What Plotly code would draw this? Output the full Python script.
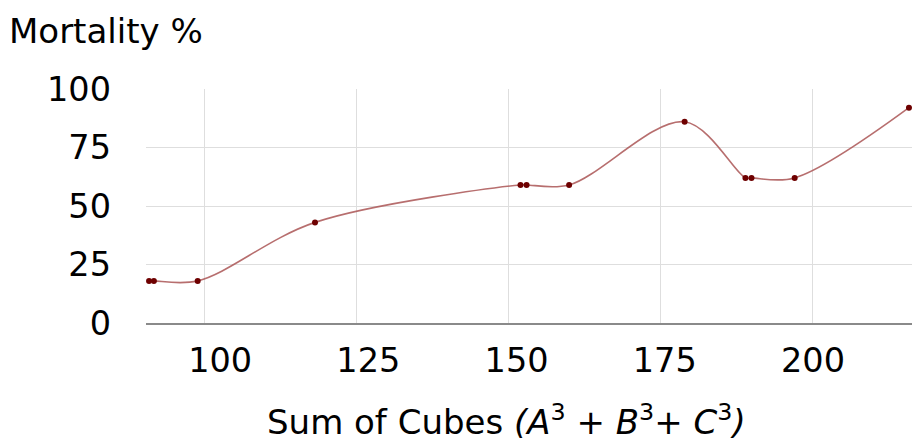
import plotly.graph_objects as go

# sum of cubes vs mortality
sum_of_cubes = [90.8, 91.6, 98.8, 118.1, 151.9, 152.9, 159.9, 178.9, 188.9, 189.9, 197.0, 215.8]
mortality = [18, 18, 18, 43, 59, 59, 59, 86, 62, 62, 62, 92]

x_ticks = [100, 125, 150, 175, 200]
y_ticks = [0, 25, 50, 75, 100]

FONT = "Verdana, DejaVu Sans, sans-serif"

fig = go.Figure()
fig.add_trace(
    go.Scatter(
        x=sum_of_cubes,
        y=mortality,
        mode="lines+markers",
        line=dict(color="rgba(170, 85, 85, 0.85)", width=1.6, shape="spline", smoothing=1),
        marker=dict(size=6, color="#6e0000"),
        cliponaxis=False,
        showlegend=False,
        hoverinfo="x+y",
    )
)
# the reference's tick labels sit on a slightly different scale than its grid,
# so they come from an overlaid label-only axis
fig.add_trace(
    go.Scatter(
        x=x_ticks,
        y=[None] * len(x_ticks),
        xaxis="x2",
        mode="markers",
        showlegend=False,
        hoverinfo="skip",
    )
)

fig.update_layout(
    width=912,
    height=441,
    margin=dict(l=146, r=0, t=89, b=118),
    plot_bgcolor="white",
    paper_bgcolor="white",
    font=dict(family=FONT, size=33.5, color="black"),
    xaxis=dict(
        range=[90.3, 216.3],
        tickvals=x_ticks,
        showticklabels=False,
        showgrid=True,
        gridcolor="#dedede",
        gridwidth=1,
        zeroline=False,
        showline=True,
        linecolor="#8a8a8a",
        linewidth=2,
        ticks="",
    ),
    xaxis2=dict(
        overlaying="x",
        side="bottom",
        anchor="y",
        range=[87.5, 216.7],
        tickvals=x_ticks,
        showgrid=False,
        zeroline=False,
        showline=False,
        ticks="",
        ticklabelstandoff=14,
    ),
    yaxis=dict(
        range=[0, 100],
        tickvals=y_ticks,
        showgrid=True,
        gridcolor="#dedede",
        gridwidth=1,
        zeroline=False,
        showline=False,
        ticks="",
        ticklabelstandoff=34,
    ),
    annotations=[
        dict(
            text="Mortality %",
            xref="paper", yref="paper",
            x=-139 / 766, y=1 + 58 / 234,
            xanchor="left", yanchor="middle",
            showarrow=False,
            font=dict(size=34),
        ),
        dict(
            text="Sum of Cubes <i>(A</i><sup>3</sup> + <i>B</i><sup>3</sup>+ <i>C</i><sup>3</sup><i>)</i>",
            xref="paper", yref="paper",
            x=(506 - 146) / 766, y=-97 / 234,
            xanchor="center", yanchor="middle",
            showarrow=False,
            font=dict(size=34),
        ),
    ],
)

fig.write_html(
    "out.html",
    config={"displayModeBar": False},
    post_script="document.body.style.margin='0';",
)
